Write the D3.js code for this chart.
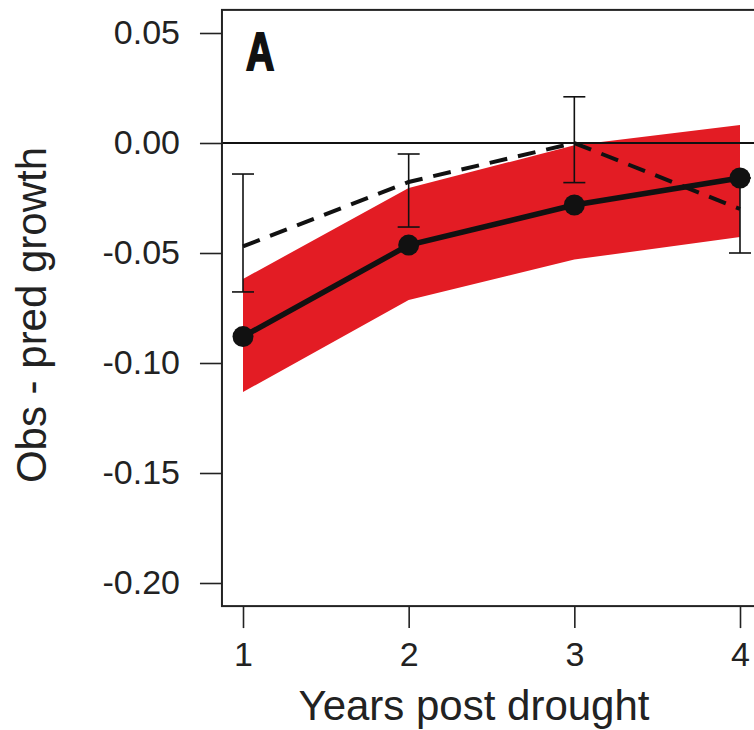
<!DOCTYPE html>
<html>
<head>
<meta charset="utf-8">
<script src="https://cdn.jsdelivr.net/npm/d3@7"></script>
<style>
  body { margin: 0; background: #fff; }
  svg { display: block; }
</style>
</head>
<body>
<div id="chart"></div>
<script>
const width = 754;
const height = 730;

// data
const years = [1, 2, 3, 4];
const observed = [-0.088, -0.0464, -0.0282, -0.0159];
const bandUpper = [-0.0618, -0.0205, -0.001, 0.0082];
const bandLower = [-0.1132, -0.0714, -0.053, -0.0427];
const dashed = [-0.047, -0.0177, 0.0, -0.030];
const errHigh = [-0.0141, -0.005, 0.021, -0.0159];
const errLow = [-0.0677, -0.0382, -0.018, -0.050];
const yTicks = [0.05, 0.00, -0.05, -0.10, -0.15, -0.20];
const xTicks = [1, 2, 3, 4];

const svg = d3.select("#chart").append("svg")
    .attr("width", width)
    .attr("height", height);

const xScale = d3.scaleLinear().domain([1, 4]).range([243, 740]);
const yScale = d3.scaleLinear().domain([0.05, -0.20]).range([33, 583]);

const boxLeft = xScale(0.873), boxRight = xScale(4.12);
const boxTop = yScale(0.0605), boxBottom = yScale(-0.2105);

const rows = years.map((yr, i) => ({
    x: yr, obs: observed[i], up: bandUpper[i], lo: bandLower[i],
    dash: dashed[i], hi: errHigh[i], low: errLow[i]
}));

// red band
const area = d3.area()
    .x(d => xScale(d.x))
    .y0(d => yScale(d.lo))
    .y1(d => yScale(d.up));

svg.append("path")
    .datum(rows)
    .attr("d", area)
    .attr("fill", "#e31c24");

// zero line
svg.append("line")
    .attr("x1", boxLeft).attr("x2", boxRight)
    .attr("y1", yScale(0)).attr("y2", yScale(0))
    .attr("stroke", "#111").attr("stroke-width", 2);

// dashed line
const dashLine = d3.line().x(d => xScale(d.x)).y(d => yScale(d.dash));
svg.append("path")
    .datum(rows)
    .attr("d", dashLine)
    .attr("fill", "none")
    .attr("stroke", "#111")
    .attr("stroke-width", 4)
    .attr("stroke-dasharray", "18,11");

// error bars
const eb = svg.append("g").attr("stroke", "#111").attr("stroke-width", 1.6);
rows.forEach(d => {
    const cx = xScale(d.x);
    eb.append("line").attr("x1", cx).attr("x2", cx)
        .attr("y1", yScale(d.hi)).attr("y2", yScale(d.low));
    eb.append("line").attr("x1", cx - 11).attr("x2", cx + 11)
        .attr("y1", yScale(d.hi)).attr("y2", yScale(d.hi));
    eb.append("line").attr("x1", cx - 11).attr("x2", cx + 11)
        .attr("y1", yScale(d.low)).attr("y2", yScale(d.low));
});

// solid line + points
const solid = d3.line().x(d => xScale(d.x)).y(d => yScale(d.obs));
svg.append("path")
    .datum(rows)
    .attr("d", solid)
    .attr("fill", "none")
    .attr("stroke", "#111")
    .attr("stroke-width", 5.5);

svg.append("g")
    .selectAll("circle")
    .data(rows)
    .enter()
    .append("circle")
    .attr("cx", d => xScale(d.x))
    .attr("cy", d => yScale(d.obs))
    .attr("r", 10.5)
    .attr("fill", "#111");

// box
svg.append("rect")
    .attr("x", boxLeft).attr("y", boxTop)
    .attr("width", boxRight - boxLeft).attr("height", boxBottom - boxTop)
    .attr("fill", "none")
    .attr("stroke", "#222").attr("stroke-width", 2);

// axes
const yaxis = d3.axisLeft(yScale)
    .tickValues(yTicks)
    .tickFormat(d => d3.format(".2f")(d).replace("−", "-"))
    .tickSize(22)
    .tickPadding(20);

svg.append("g")
    .attr("transform", "translate(" + boxLeft + ",0)")
    .call(yaxis)
    .call(g => g.select(".domain").remove())
    .call(g => g.selectAll("line").attr("stroke", "#222").attr("stroke-width", 1.6))
    .call(g => g.selectAll("text")
        .attr("font-family", "Liberation Sans, Arial, sans-serif")
        .attr("font-size", 34)
        .attr("fill", "#222"));

const xaxis = d3.axisBottom(xScale)
    .tickValues(xTicks)
    .tickFormat(d3.format("d"))
    .tickSize(22)
    .tickPadding(14);

svg.append("g")
    .attr("transform", "translate(0," + boxBottom + ")")
    .call(xaxis)
    .call(g => g.select(".domain").remove())
    .call(g => g.selectAll("line").attr("stroke", "#222").attr("stroke-width", 1.6))
    .call(g => g.selectAll("text")
        .attr("font-family", "Liberation Sans, Arial, sans-serif")
        .attr("font-size", 34)
        .attr("fill", "#222"));

// titles
svg.append("text")
    .attr("x", 474).attr("y", 720)
    .attr("text-anchor", "middle")
    .attr("font-family", "Liberation Sans, Arial, sans-serif")
    .attr("font-size", 42)
    .attr("fill", "#222")
    .text("Years post drought");

svg.append("text")
    .attr("transform", "translate(46,315) rotate(-90)")
    .attr("text-anchor", "middle")
    .attr("font-family", "Liberation Sans, Arial, sans-serif")
    .attr("font-size", 42)
    .attr("fill", "#222")
    .text("Obs - pred growth");

// panel letter (condensed heavy look)
svg.append("text")
    .attr("transform", "translate(246,70) scale(0.74,1)")
    .attr("font-family", "Liberation Sans, Arial, sans-serif")
    .attr("font-weight", "bold")
    .attr("font-size", 53)
    .attr("fill", "#111")
    .attr("stroke", "#111")
    .attr("stroke-width", 2)
    .text("A");
</script>
</body>
</html>
